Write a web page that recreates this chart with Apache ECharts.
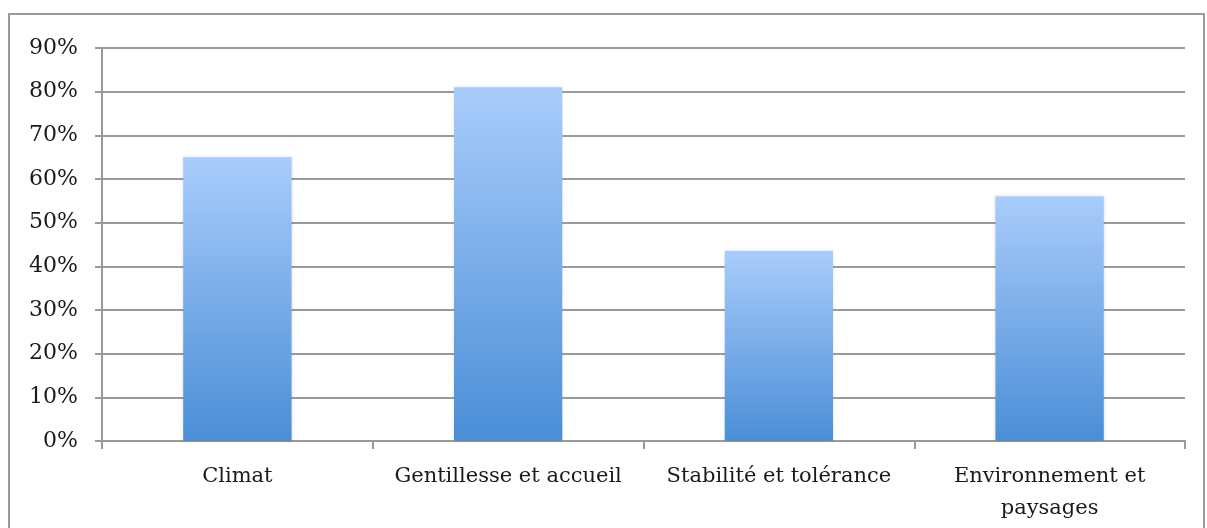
<!DOCTYPE html>
<html>
<head>
<meta charset="utf-8">
<script src="https://cdn.jsdelivr.net/npm/echarts@6/dist/echarts.min.js"></script>
<style>
  html, body { margin: 0; padding: 0; background: #fff; }
  #chart { width: 1207px; height: 528px; }
</style>
</head>
<body>
<div id="chart"></div>
<script>
// categories and values
var categories = ['Climat', 'Gentillesse et accueil', 'Stabilité et tolérance', 'Environnement et\npaysages']
var values = [65, 81, 43.5, 56]
var yTicks = [0, 10, 20, 30, 40, 50, 60, 70, 80, 90]

var myChart = echarts.init(document.getElementById('chart'))
var font = 'DejaVu Serif'

myChart.setOption({
  animation: false,
  graphic: [{
    type: 'rect',
    shape: { x: 9, y: 14, width: 1195, height: 530 },
    style: { fill: 'none', stroke: '#9a9a9a', lineWidth: 2 },
    silent: true
  }],
  grid: { left: 102, right: 22, top: 48, bottom: 87 },
  xAxis: {
    type: 'category',
    data: categories,
    axisLine: { lineStyle: { color: '#9a9a9a', width: 2 } },
    axisTick: { show: true, interval: 0, length: 8, alignWithLabel: false, lineStyle: { color: '#9a9a9a', width: 2 } },
    axisLabel: {
      interval: 0,
      hideOverlap: false,
      color: '#1a1a1a',
      fontFamily: font,
      fontSize: 21,
      margin: 20,
      lineHeight: 32
    }
  },
  yAxis: {
    type: 'value',
    min: yTicks[0],
    max: yTicks[yTicks.length - 1],
    interval: 10,
    axisLine: { show: true, lineStyle: { color: '#9a9a9a', width: 2 } },
    axisTick: { show: true, length: 7, lineStyle: { color: '#9a9a9a', width: 2 } },
    splitLine: { lineStyle: { color: '#9a9a9a', width: 2 } },
    axisLabel: {
      color: '#1a1a1a',
      fontFamily: font,
      fontSize: 22,
      margin: 24,
      formatter: '{value}%'
    }
  },
  series: [{
    type: 'bar',
    data: values,
    barCategoryGap: '60%',
    itemStyle: {
      color: new echarts.graphic.LinearGradient(0, 0, 0, 1, [
        { offset: 0, color: '#a9ccfb' },
        { offset: 1, color: '#4a8ed7' }
      ]),
      shadowBlur: 3,
      shadowColor: 'rgba(0,0,0,0.15)'
    }
  }]
})
</script>
</body>
</html>
